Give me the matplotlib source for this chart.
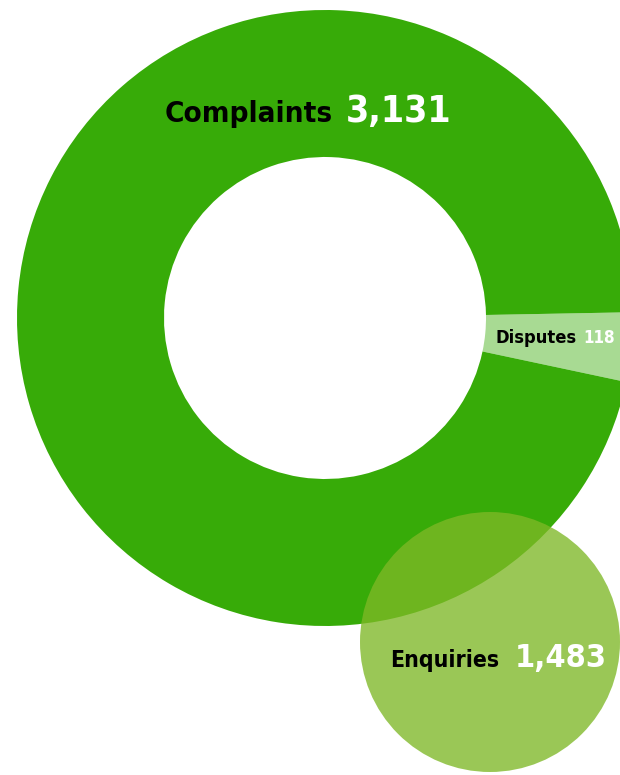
import matplotlib
matplotlib.use("Agg")
import matplotlib.pyplot as plt
from matplotlib.patches import Circle

# data
ring_labels = ["Disputes", "Complaints"]
ring_values = [118, 3131]
extra_label = "Enquiries"
extra_value = 1483

# styling
GREEN = "#37AB08"
LIGHT = "#A8DA93"
ENQ = "#7EB826"
FONT = ["DejaVu Sans"]

W, H = 620, 775
fig = plt.figure(figsize=(W / 100, H / 100), dpi=100)
ax = fig.add_axes([0, 0, 1, 1])

center = (325, 457)
r_out, r_in = 308, 161

ax.pie(
    ring_values,
    colors=[LIGHT, GREEN],
    startangle=-12,
    radius=r_out,
    center=center,
    wedgeprops=dict(width=r_out - r_in, linewidth=0),
)

ax.add_patch(Circle((490, 133), 130, facecolor=ENQ, alpha=0.78, linewidth=0, zorder=3))

ax.set_xlim(0, W)
ax.set_ylim(0, H)
ax.set_aspect("equal")
ax.axis("off")

renderer = fig.canvas.get_renderer()


def fit(txt, width_px):
    # shrink/grow the font so the text spans about width_px pixels
    w = txt.get_window_extent(renderer).width
    txt.set_fontsize(txt.get_fontsize() * width_px / w)


def label(x, y, name, value, w_name, w_val, gap):
    t1 = ax.text(x, y, name, ha="right", va="baseline", fontsize=20,
                 fontweight="bold", fontstretch="condensed", color="black",
                 family=FONT, zorder=5)
    t2 = ax.text(x + gap, y, f"{value:,}", ha="left", va="baseline", fontsize=20,
                 fontweight="bold", fontstretch="condensed", color="white",
                 family=FONT, zorder=5)
    fit(t1, w_name)
    fit(t2, w_val)


label(333, 653, ring_labels[1], ring_values[1], 168, 106, 13)
label(577, 432, ring_labels[0], ring_values[0], 81, 32, 6)
label(499, 108, extra_label, extra_value, 109, 92, 16)

fig.savefig("out.png", dpi=100)
